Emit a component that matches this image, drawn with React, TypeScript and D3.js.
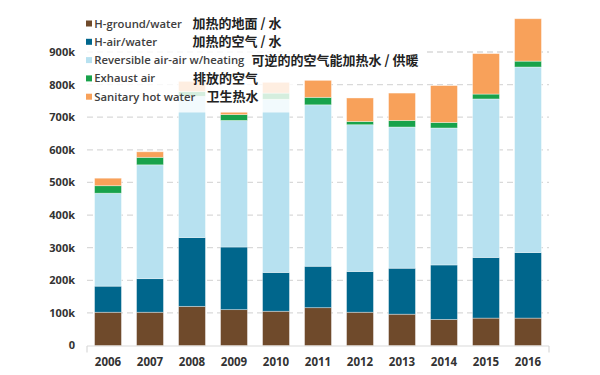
import React from 'react';
import * as d3 from 'd3';

// values in thousands of units
const years = ['2006', '2007', '2008', '2009', '2010', '2011', '2012', '2013', '2014', '2015', '2016'];
const groundWater = [102, 102, 120, 110, 105, 116, 102, 96, 80, 84, 84];
const airWater = [80, 103, 211, 192, 119, 127, 125, 141, 167, 186, 201];
const reversibleAirAir = [285, 349, 433, 388, 531, 495, 450, 433, 420, 486, 569];
const exhaustAir = [23, 23, 15, 18, 19, 23, 10, 20, 17, 15, 18];
const sanitaryHotWater = [23, 17, 31, 8, 33, 52, 72, 84, 113, 124, 130];

const seriesKeys = ['ground', 'air', 'reversible', 'exhaust', 'sanitary'];
const seriesNames = ['H-ground/water', 'H-air/water', 'Reversible air-air w/heating', 'Exhaust air', 'Sanitary hot water'];
const seriesNamesZh = ['加热的地面 / 水', '加热的空气 / 水', '可逆的的空气能加热水 / 供暖', '排放的空气', '卫生热水'];
const seriesColors = ['#6f4a2b', '#00668c', '#b7e1f0', '#18a24b', '#f8a15a'];

const yTicks = [0, 100, 200, 300, 400, 500, 600, 700, 800, 900];
const yTickLabels = ['0', '100k', '200k', '300k', '400k', '500k', '600k', '700k', '800k', '900k'];

const W = 600;
const H = 375;
const plotLeft = 87;
const plotRight = 549;
const plotBottom = 345.5;
const plotTop900 = 52;

export default function App() {
  const rows = years.map((y, i) => ({
    year: y,
    ground: groundWater[i],
    air: airWater[i],
    reversible: reversibleAirAir[i],
    exhaust: exhaustAir[i],
    sanitary: sanitaryHotWater[i],
  }));
  const stacked = d3.stack<any>().keys(seriesKeys)(rows);

  const x = d3.scaleBand<string>().domain(years).range([plotLeft, plotRight]).paddingInner(0.36).paddingOuter(0.18);
  const y = d3.scaleLinear().domain([0, 900]).range([plotBottom, plotTop900]);

  const labelFont = "'Open Sans', 'DejaVu Sans', sans-serif";
  const cjkFont = "'Noto Sans CJK SC', sans-serif";

  const legendX = 86;
  const legendY0 = 23.5;
  const legendStep = 18.3;
  const zhX = [192.5, 192.5, 251.5, 193, 206.5];

  return (
    <svg width={W} height={H} style={{ position: 'absolute', left: 0, top: 0, background: '#fff' }}>
      <rect x={0} y={0} width={W} height={H} fill="#fff" />
      {/* gridlines */}
      {yTicks.filter((t) => t > 0).map((t) => (
        <line key={t} x1={plotLeft} x2={plotRight} y1={y(t)} y2={y(t)} stroke="#d9d9d9" strokeWidth={1.3} strokeDasharray="6,4" />
      ))}
      {/* baseline */}
      <line x1={plotLeft} x2={plotRight} y1={plotBottom + 0.5} y2={plotBottom + 0.5} stroke="#d9d9d9" strokeWidth={1.2} />
      <line x1={plotLeft} x2={plotLeft} y1={plotBottom + 0.5} y2={plotBottom + 7} stroke="#d9d9d9" strokeWidth={1.2} />
      <line x1={plotRight} x2={plotRight} y1={plotBottom + 0.5} y2={plotBottom + 7} stroke="#d9d9d9" strokeWidth={1.2} />
      {/* y labels */}
      {yTicks.map((t, i) => (
        <text key={t} x={75} y={y(t)} dy="0.36em" textAnchor="end" fontFamily={labelFont} fontWeight={700} fontSize={11} fill="#333">
          {yTickLabels[i]}
        </text>
      ))}
      {/* bars */}
      {stacked.map((layer, si) => (
        <g key={layer.key} fill={seriesColors[si]}>
          {layer.map((d, i) => (
            <rect
              key={i}
              x={x(years[i])}
              y={y(d[1])}
              width={x.bandwidth()}
              height={y(d[0]) - y(d[1])}
              stroke="#ffffff"
              strokeOpacity={0.45}
              strokeWidth={0.8}
            />
          ))}
        </g>
      ))}
      {/* x labels */}
      {years.map((yr) => (
        <text key={yr} x={(x(yr) as number) + x.bandwidth() / 2} y={366} textAnchor="middle" fontFamily={labelFont} fontWeight={700} fontSize={11.5} fill="#333">
          {yr}
        </text>
      ))}
      {/* legend background */}
      <rect x={81} y={12} width={215} height={100.5} fill="#fff" opacity={0.82} />
      <rect x={290} y={49} width={134} height={22} fill="#fff" />
      {seriesNames.map((name, i) => (
        <g key={name}>
          <rect x={legendX} y={legendY0 + i * legendStep - 3} width={6} height={6} fill={seriesColors[i]} />
          <text x={94.3} y={legendY0 + i * legendStep} dy="0.36em" fontFamily={labelFont} fontWeight={600} fontSize={11.3} fill="#404040">
            {name}
          </text>
          <text x={zhX[i]} y={legendY0 + i * legendStep} dy="0.36em" fontFamily={cjkFont} fontWeight={700} fontSize={13} fill="#222">
            {seriesNamesZh[i]}
          </text>
        </g>
      ))}
    </svg>
  );
}
